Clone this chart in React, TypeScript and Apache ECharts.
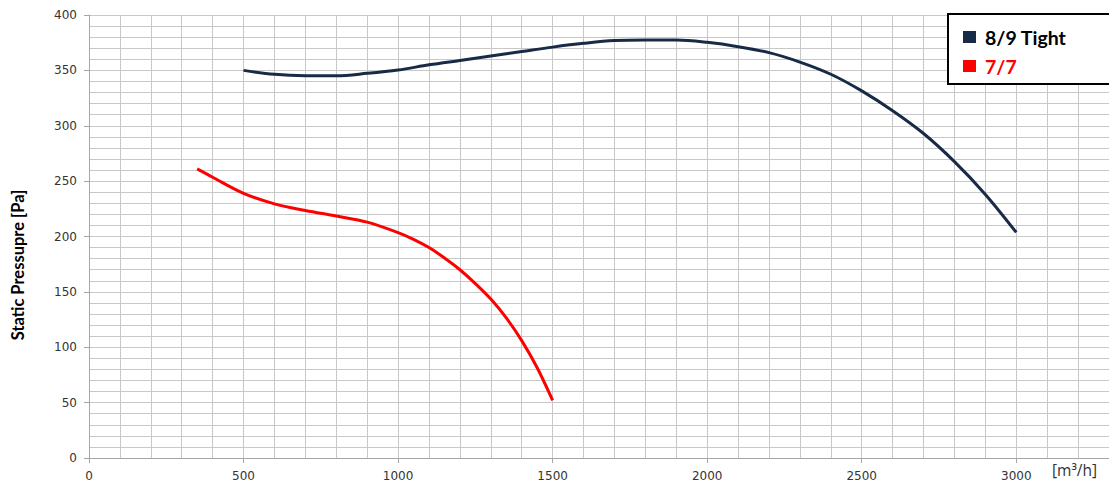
import React, { useEffect, useRef } from "react";
import * as echarts from "echarts";

const xTight = [500, 600, 700, 800, 900, 1000, 1100, 1200, 1300, 1400, 1500, 1600, 1700, 1800, 1900, 2000, 2100, 2200, 2300, 2400, 2500, 2600, 2700, 2800, 2900, 3000];
const yTight = [350, 346.4, 345.2, 345.2, 347.3, 350.3, 355, 359, 363, 367, 371, 374.4, 376.9, 377.4, 377.4, 375.3, 371.4, 366, 357.5, 346.5, 331.5, 313.6, 293, 267.6, 238, 203.7];

const x77 = [350, 400, 500, 600, 700, 800, 900, 1000, 1050, 1100, 1150, 1200, 1250, 1300, 1350, 1400, 1450, 1500];
const y77 = [261, 253.5, 239, 229.5, 223.5, 218.5, 213, 203.5, 197.4, 190, 180.6, 170, 157.5, 143.5, 126.5, 106, 81.5, 52];

const xTickLabels = [0, 500, 1000, 1500, 2000, 2500, 3000];
const yTickLabels = [0, 50, 100, 150, 200, 250, 300, 350, 400];

const seriesNames = ["8/9 Tight", "7/7"];
const seriesColors = ["#172a46", "#ff0000"];

export default function App() {
  const ref = useRef<HTMLDivElement>(null);
  useEffect(() => {
    if (!ref.current) return;
    const chart = echarts.init(ref.current, null, { renderer: "svg" });
    const gridColor = "#c8c8c8";
    const axisColor = "#a6a6a6";
    const labelStyle = { fontFamily: "DejaVu Sans", fontSize: 12, color: "#333333" };
    const gridAxis = {
      type: "value",
      axisLine: { show: false },
      axisTick: { show: false },
      axisLabel: { show: false },
      splitLine: { show: true, lineStyle: { color: gridColor, width: 1 } },
    };
    chart.setOption({
      animation: false,
      backgroundColor: "#ffffff",
      grid: { left: 89, right: 0, top: 15, bottom: 32, containLabel: false },
      xAxis: [
        {
          type: "value",
          min: 0,
          max: 3300,
          interval: 100,
          axisLine: { show: true, lineStyle: { color: axisColor, width: 1 } },
          axisTick: { show: true, length: 5, customValues: xTickLabels, lineStyle: { color: axisColor } },
          axisLabel: { customValues: xTickLabels, margin: 12, formatter: (v: number) => String(v), ...labelStyle },
          splitLine: { show: false },
          z: 3,
        },
        { ...gridAxis, min: 0, max: 3300, interval: 100, position: "bottom" },
      ],
      yAxis: [
        {
          type: "value",
          min: 0,
          max: 400,
          interval: 10,
          axisLine: { show: true, lineStyle: { color: axisColor, width: 1 } },
          axisTick: { show: true, length: 5, customValues: yTickLabels, lineStyle: { color: axisColor } },
          axisLabel: { customValues: yTickLabels, margin: 12, formatter: (v: number) => String(v), ...labelStyle },
          splitLine: { show: false },
          z: 3,
        },
        { ...gridAxis, min: 0, max: 400, interval: 10, position: "left" },
      ],
      legend: {
        orient: "vertical",
        left: 963,
        top: 27,
        padding: 0,
        itemGap: 9,
        itemWidth: 13,
        itemHeight: 12,
        icon: "rect",
        z: 10,
        textStyle: { fontFamily: "Lato", fontWeight: "bold", fontSize: 19.5, lineHeight: 18, padding: [0, 0, 0, 4] },
        data: [
          { name: seriesNames[0], textStyle: { color: "#000000" } },
          { name: seriesNames[1], textStyle: { color: "#ff0000" } },
        ],
      },
      graphic: [
        {
          type: "rect",
          z: 5,
          shape: { x: 948, y: 14, width: 175, height: 70 },
          style: { fill: "#ffffff", stroke: "#000000", lineWidth: 2 },
        },
        {
          type: "text",
          x: 18,
          y: 265,
          rotation: Math.PI / 2,
          style: {
            text: "Static Pressupre [Pa]",
            fontFamily: "Lato",
            fontWeight: "bold",
            fontSize: 16.5,
            fill: "#000000",
            align: "center",
            verticalAlign: "middle",
          },
        },
        {
          type: "text",
          x: 1052,
          y: 470,
          style: {
            text: "[m³/h]",
            fontFamily: "Open Sans",
            fontSize: 15.5,
            fill: "#333333",
            align: "left",
            verticalAlign: "middle",
          },
        },
      ],
      series: [
        {
          name: seriesNames[0],
          type: "line",
          data: xTight.map((x, i) => [x, yTight[i]]),
          smooth: 0.35,
          showSymbol: false,
          color: seriesColors[0],
          lineStyle: { color: seriesColors[0], width: 3 },
          z: 3,
        },
        {
          name: seriesNames[1],
          type: "line",
          data: x77.map((x, i) => [x, y77[i]]),
          smooth: 0.35,
          showSymbol: false,
          color: seriesColors[1],
          lineStyle: { color: seriesColors[1], width: 3 },
          z: 3,
        },
      ],
    });
    return () => chart.dispose();
  }, []);
  return (
    <div
      ref={ref}
      style={{ position: "fixed", left: 0, top: 0, width: 1109, height: 490, background: "#fff" }}
    />
  );
}
